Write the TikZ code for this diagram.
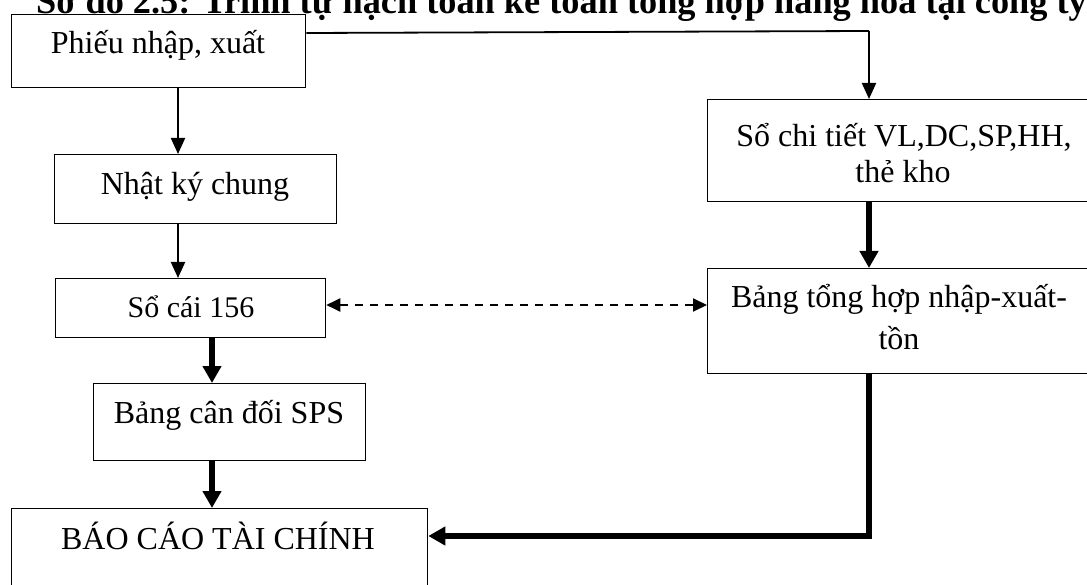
\documentclass[tikz,border=0pt]{standalone}
\usepackage{fontspec}
\setmainfont{Liberation Serif}
\usetikzlibrary{arrows.meta,calc}

\tikzset{
  box/.style={draw=black, line width=1.3pt, rectangle, inner sep=0pt, anchor=north west},
  lbl/.style={inner sep=0pt, anchor=base, font=\fontsize{32}{36}\selectfont},
  thinarr/.style={line width=2pt, -{Triangle[length=16pt,width=14pt]}},
  thickarr/.style={line width=5.5pt, -{Triangle[length=17pt,width=18pt]}},
  dasharr/.style={line width=2pt, dash pattern=on 8pt off 7pt,
    {Triangle[length=14pt,width=13pt]}-{Triangle[length=14pt,width=13pt]}},
}

\begin{document}
\begin{tikzpicture}[x=1pt, y=-1pt]
  \useasboundingbox (0,0) rectangle (1087,585);

  % left column boxes
  \node[box, minimum width=294pt, minimum height=73pt] (b1) at (11,14) {};
  \node[box, minimum width=282pt, minimum height=69pt] (b2) at (54,154) {};
  \node[box, minimum width=270pt, minimum height=59pt] (b3) at (55,278) {};
  \node[box, minimum width=272pt, minimum height=77pt] (b4) at (93,383) {};
  \node[box, minimum width=416pt, minimum height=100pt] (b5) at (11,508) {};

  % right column boxes
  \node[box, minimum width=390pt, minimum height=102pt] (r1) at (707,99) {};
  \node[box, minimum width=390pt, minimum height=105pt] (r2) at (707,268) {};

  % heading
  \node[inner sep=0pt, anchor=base west, font=\fontsize{36.3}{40}\bfseries\selectfont] (title) at (36,14)
    {Sơ đồ 2.5: Trình tự hạch toán kế toán tổng hợp hàng hóa tại công ty};

  % labels
  \node[lbl] (t1) at (158,54) {Phiếu nhập, xuất};
  \node[lbl] (t2) at (195,195) {Nhật ký chung};
  \node[lbl, font=\fontsize{30}{34}\selectfont] (t3) at (191,318) {Sổ cái 156};
  \node[lbl] (t4) at (229,423) {Bảng cân đối SPS};
  \node[lbl] (t5) at (218,549) {BÁO CÁO TÀI CHÍNH};
  \node[lbl] (r1a) at (904,147) {Sổ chi tiết VL,DC,SP,HH,};
  \node[lbl] (r1b) at (903,183) {thẻ kho};
  \node[lbl] (r2a) at (899,308) {Bảng tổng hợp nhập-xuất-};
  \node[lbl] (r2b) at (899,349) {tồn};

  % connector columns
  \coordinate (colA) at (178,0);
  \coordinate (colB) at (212,0);
  \coordinate (colC) at (869,0);
  \coordinate (fork) at (869,31);
  \coordinate (elbow) at (869,536);
  \coordinate (dashrow) at (0,305);

  % left column flow
  \draw[thinarr] (colA |- b1.south) -- (colA |- b2.north);
  \draw[thinarr] (colA |- b2.south) -- (colA |- b3.north);
  \draw[thickarr] (colB |- b3.south) -- (colB |- b4.north);
  \draw[thickarr] (colB |- b4.south) -- (colB |- b5.north);

  % branch to the detail ledger
  \draw[line width=1.8pt] ($(b1.north east)+(0,19)$) -- (fork);
  \draw[thinarr] (fork) -- (colC |- r1.north);

  % right column flow
  \draw[thickarr] (colC |- r1.south) -- (colC |- r2.north);
  \draw[line width=5.5pt] (colC |- r2.south) -- (elbow);
  \draw[thickarr, line cap=rect] (elbow) -- (elbow -| b5.east);

  % reconciliation between ledger and summary
  \draw[dasharr] (dashrow -| b3.east) -- (dashrow -| r2.west);
\end{tikzpicture}
\end{document}
